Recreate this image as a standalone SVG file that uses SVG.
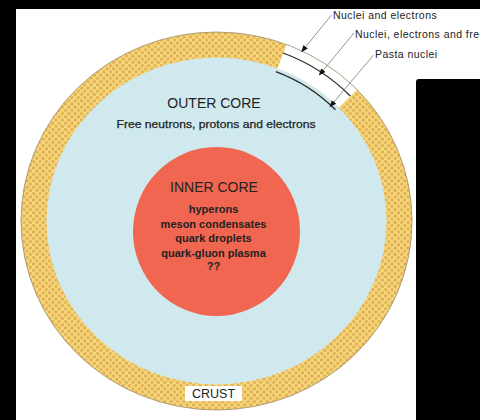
<svg xmlns="http://www.w3.org/2000/svg" width="480" height="420" viewBox="0 0 480 420">
  <defs>
    <pattern id="crustDots" x="0" y="0" width="6.4" height="6.4" patternUnits="userSpaceOnUse">
      <rect width="6.4" height="6.4" fill="#f6d67a"/>
      <circle cx="1.6" cy="1.6" r="1.5" fill="#e0ac50"/>
      <circle cx="4.8" cy="4.8" r="1.5" fill="#e0ac50"/>
    </pattern>
    <marker id="arrow" viewBox="0 0 10 10" refX="9" refY="5" markerWidth="7" markerHeight="7" markerUnits="userSpaceOnUse" orient="auto">
      <path d="M0,1 L10,5 L0,9 Z" fill="#111"/>
    </marker>
    <style>
      .lbl { font-family: "Liberation Sans", Arial, sans-serif; fill: #222; }
      .callout { font-size: 10.5px; letter-spacing: 0.45px; }
      .leader { stroke: #7a7a7a; stroke-width: 0.8; fill: none; }
      .shell { stroke: #2a2a2a; stroke-width: 1.3; fill: none; }
    </style>
  </defs>

  <!-- page -->
  <rect x="0" y="0" width="480" height="420" fill="#000"/>
  <rect x="16" y="9" width="464" height="411" fill="#fff"/>
  <path d="M416,82 Q416,79 419,79 L480,79 L480,420 L416,420 Z" fill="#000"/>

  <!-- crust -->
  <g id="crust">
    <ellipse cx="216.5" cy="221" rx="195.5" ry="189" fill="url(#crustDots)"/>
  </g>

  <g id="outer-core">
    <ellipse cx="216.5" cy="221" rx="170" ry="163.5" fill="#d0e9ef"/>
  </g>

  <!-- wedge cut out of the crust showing its layers -->
  <g id="crust-cutaway">
    <path d="M286.6,44.6 A195.5,189 0 0 1 357.1,89.7 L338.8,107.4 A170,163.5 0 0 0 277.4,68.4 Z" fill="#fff"/>
    <ellipse cx="216.5" cy="221" rx="195.5" ry="189" fill="none" stroke="#9c8a66" stroke-width="0.8"/>
    <path class="shell" d="M283.2,53.0 A186,180 0 0 1 350.3,96.0"/>
    <path class="shell" d="M275.8,71.6 A165.5,160 0 0 1 335.5,109.8"/>
  </g>

  <g id="inner-core">
    <ellipse cx="216.5" cy="231.5" rx="83.5" ry="84.5" fill="#f06650"/>
  </g>

  <g id="outer-core-label">
    <text class="lbl" x="214" y="108" font-size="14" text-anchor="middle">OUTER CORE</text>
    <text class="lbl" x="216" y="127.5" font-size="11" text-anchor="middle" textLength="199" lengthAdjust="spacingAndGlyphs" stroke="#222" stroke-width="0.25">Free neutrons, protons and electrons</text>
  </g>

  <g id="inner-core-label">
    <text class="lbl" x="214" y="192" font-size="14" text-anchor="middle">INNER CORE</text>
    <g font-size="11" font-weight="bold" text-anchor="middle">
      <text class="lbl" x="213.5" y="213">hyperons</text>
      <text class="lbl" x="213.5" y="227.5">meson condensates</text>
      <text class="lbl" x="213.5" y="242">quark droplets</text>
      <text class="lbl" x="213.5" y="256.5">quark-gluon plasma</text>
      <text class="lbl" x="213.5" y="270">??</text>
    </g>
  </g>

  <g id="crust-label">
    <rect x="185" y="386" width="57" height="15" fill="#fff"/>
    <text class="lbl" x="213.5" y="398" font-size="12.5" text-anchor="middle">CRUST</text>
  </g>

  <!-- callout labels for the crust layers -->
  <g id="layer-labels">
    <text class="lbl callout" x="333" y="18.5">Nuclei and electrons</text>
    <text class="lbl callout" x="355" y="38">Nuclei, electrons and free neutrons</text>
    <text class="lbl callout" x="375" y="58">Pasta nuclei</text>
  </g>

  <g id="connectors">
    <line class="leader" x1="331.5" y1="15" x2="301.7" y2="51.7" marker-end="url(#arrow)"/>
    <line class="leader" x1="354" y1="33" x2="319.3" y2="75" marker-end="url(#arrow)"/>
    <line class="leader" x1="373.5" y1="55" x2="330" y2="106.7" marker-end="url(#arrow)"/>
  </g>
</svg>
